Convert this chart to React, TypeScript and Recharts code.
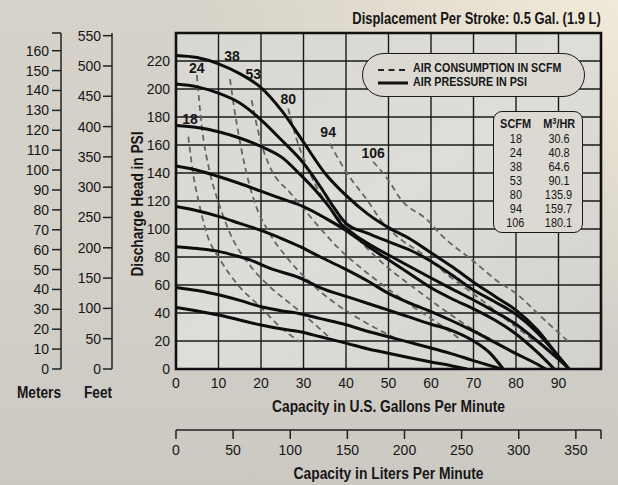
import React from 'react';
import { ComposedChart, Line, XAxis, YAxis, CartesianGrid, Scatter, ReferenceArea } from 'recharts';

const FONT = "'Liberation Sans', Arial, sans-serif";
const INK = '#161616';

// Tick labels
const gpmTicks = [0, 10, 20, 30, 40, 50, 60, 70, 80, 90];
const psiTicks = [0, 20, 40, 60, 80, 100, 120, 140, 160, 180, 200, 220];
const feetTicks = [0, 50, 100, 150, 200, 250, 300, 350, 400, 450, 500, 550];
const meterTicks = [0, 10, 20, 30, 40, 50, 60, 70, 80, 90, 100, 110, 120, 130, 140, 150, 160];
const literTicks = [0, 50, 100, 150, 200, 250, 300, 350];

// Axis extents
const gpmMax = 100;
const psiMax = 240;
const feetMax = 554.4;
const meterMax = 168.9;
const literMax = 372;

// Air pressure curves (gpm, psi)
const press224 = [[0,224],[5,222.5],[10,218],[15,211],[20,201],[25,184],[30,162],[35,140],[40,124],[45,111],[50,101],[55,93],[60,83],[65,73],[70,62],[75,52],[80,42],[85,28],[90,9],[92.5,0]];
const press203 = [[0,203.5],[5,201.5],[10,197],[15,190],[20,178],[25,163],[30,147],[34,130],[37,116],[40,104],[45,97],[50,91],[55,85],[60,77],[65,67],[70,56.5],[75,48],[80,39],[85,26],[90,9],[92.5,0]];
const press174 = [[0,174],[5,172.5],[10,169.5],[15,165],[20,159],[25,151],[29.2,139],[33,127],[36,116],[39,103],[42,96],[45,90],[52.7,77],[60,65],[65,57],[70,49.3],[75,41],[80,32],[85,20],[90,7],[92.5,0]];
const press145 = [[0,145],[5,142],[10,137.5],[15,132.5],[20,127],[25,121.5],[30,116],[35,108],[40,99],[45,88],[50,78],[55,68],[60,58],[65,50],[70,43],[75,35],[80,25],[85,12],[89,0]];
const press116 = [[0,116],[5,113],[10,109],[15,104],[20,99],[25,93],[29.2,87.4],[34,80],[39.4,72],[45,63],[50,54],[55,47],[60,41],[64.5,35],[70,27],[75,19],[80,11],[84,5],[87,0]];
const press87 = [[0,87.4],[5,86],[10,84],[14,81],[17.4,78],[22,72],[29.2,65],[34,58],[40.2,51.7],[45,47],[50,42],[55,37],[60,32],[64.5,28],[70,20],[74,11],[77,0]];
const press58 = [[0,58.3],[5,56],[10,53],[15,49],[20,44.5],[25,41.5],[29.2,39.5],[34,36],[40.2,31.4],[45,27],[50,23],[55,19],[60,15],[64.5,11.2],[70,6],[76.5,0]];
const press44 = [[0,44],[5,41.5],[10,38.6],[15,35],[20,31.4],[25,28.5],[29.2,26.6],[34,23],[40.2,18.3],[45,14.5],[50,11.2],[55,8],[60,5],[64.5,2.5],[68.5,0]];

// Air consumption curves (gpm, psi)
const scfm18 = [[2.9,166],[4,140],[5.3,120],[7.2,97],[10.4,78],[14.3,61],[19.8,44.5],[24.5,30],[29.2,19.5]];
const scfm24 = [[4.9,210],[6,175],[8,140],[10,119],[12.7,97],[17.4,74],[22,59],[28,44],[33,31],[37,20]];
const scfm38 = [[12.7,207],[14.3,175],[16.2,145],[18.3,121],[22,97],[26,80],[31.5,62],[37,48],[43,36],[49,26],[53,20]];
const scfm53 = [[17.8,192],[19.8,164],[22,145],[26.8,126],[28.4,120.5],[33.9,100.5],[38,87],[44,71],[50,57],[56,44],[62,32],[67,21]];
const scfm80 = [[26.4,186],[28.4,164],[31.5,140],[33.9,125.5],[41,99],[49.6,73],[56,58],[62,44.5],[70,28],[75,20]];
const scfm94 = [[36.2,161],[40.2,140],[44.9,121],[48.8,104],[52.7,93],[58,82],[64,67],[70.7,52],[77,37],[84,20.7]];
const scfm106 = [[46.4,148],[50.4,133],[52.7,122],[59.3,106],[62,97],[70,77],[76,62],[80,54],[86,37],[92.7,18.6]];

// Curve label anchors (gpm, psi, text)
const curveLabels = [
  [3.3, 178.6, '18'],
  [4.9, 215, '24'],
  [13.2, 223.6, '38'],
  [18.2, 210.7, '53'],
  [26.4, 192.6, '80'],
  [35.8, 169, '94'],
  [46.4, 154, '106'],
];

// Conversion table
const tableScfm = ['18', '24', '38', '53', '80', '94', '106'];
const tableM3hr = ['30.6', '40.8', '64.6', '90.1', '135.9', '159.7', '180.1'];

const toPts = (arr: number[][]) => arr.map(([gpm, psi]) => ({ gpm, psi }));
const pressureCurves = [press224, press203, press174, press145, press116, press87, press58, press44].map(toPts);
const airCurves = [scfm18, scfm24, scfm38, scfm53, scfm80, scfm94, scfm106].map(toPts);
const labelPts = curveLabels.map(([gpm, psi, text]) => ({ gpm, psi, text }));
const literRange = [{ lpm: 0, psi: 0 }, { lpm: literMax, psi: 0 }];

const tickStyle = { fill: INK, fontSize: 14, fontFamily: FONT };

const LabelShape = (props: any) => {
  const { cx, cy, payload } = props;
  return (
    <text x={cx} y={cy} textAnchor="middle" dominantBaseline="central" fill={INK}
      style={{ fontFamily: FONT, fontSize: 14, fontWeight: 700 }}>{payload.text}</text>
  );
};
const NoShape = () => <g />;

const blankEnd = (max: number) => (v: number) => (v === max ? '' : String(v));

// Condensed bold titles
const title = (text: string, len: number, fx: (vb: any) => number, fy: (vb: any) => number, rotate = false) =>
  (props: any) => {
    const vb = props.viewBox || {};
    const x = fx(vb);
    const y = fy(vb);
    return (
      <text x={x} y={y} textAnchor="middle" dominantBaseline="central" fill={INK}
        textLength={len} lengthAdjust="spacingAndGlyphs"
        transform={rotate ? `rotate(-90 ${x} ${y})` : undefined}
        style={{ fontFamily: FONT, fontSize: 16, fontWeight: 700 }}>{text}</text>
    );
  };

const condensed = (origin: string, k = 0.82): React.CSSProperties => ({ display: 'inline-block', transform: `scaleX(${k})`, transformOrigin: origin, whiteSpace: 'nowrap' });

export default function App() {
  return (
    <div style={{
      position: 'absolute', left: 0, top: 0, width: 618, height: 485, overflow: 'hidden',
      background: 'radial-gradient(ellipse at 100% 0%, rgba(242,234,216,1) 0%, rgba(236,229,213,0.6) 25%, rgba(236,229,213,0) 50%), linear-gradient(180deg, #d6d2c9 0%, #d3d0c8 55%, #ccc9c3 100%)',
    }}>
      <ComposedChart width={618} height={485} margin={{ top: 33, right: 17, bottom: 0, left: 0 }}>
        <defs>
          <linearGradient id="plotBg" x1="0" y1="0" x2="1" y2="1">
            <stop offset="0%" stopColor="#d9d7d3" />
            <stop offset="50%" stopColor="#dfddd9" />
            <stop offset="100%" stopColor="#d3d1cd" />
          </linearGradient>
        </defs>
        <XAxis xAxisId="gpm" type="number" dataKey="gpm" domain={[0, gpmMax]} ticks={gpmTicks}
          allowDataOverflow height={61} axisLine={false} tickLine={false} tickSize={6} tickMargin={3}
          tick={tickStyle} interval={0}
          label={title('Capacity in U.S. Gallons Per Minute', 233, (vb) => vb.x + vb.width / 2, (vb) => vb.y + 37)} />
        <XAxis xAxisId="lpm" type="number" dataKey="lpm" domain={[0, literMax]} ticks={[...literTicks, literMax]}
          allowDataOverflow height={55} axisLine={{ stroke: '#222', strokeWidth: 1.5 }}
          tickLine={{ stroke: '#222', strokeWidth: 1.5 }} tickSize={9} tickMargin={6} tick={tickStyle} interval={0}
          tickFormatter={blankEnd(literMax)}
          label={title('Capacity in Liters Per Minute', 190, (vb) => vb.x + vb.width / 2, (vb) => vb.y + 43)} />
        <YAxis yAxisId="y1psi" type="number" domain={[0, psiMax]} ticks={psiTicks} allowDataOverflow
          width={64} axisLine={false} tickLine={false} tickSize={4} tickMargin={2} tick={tickStyle} interval={0}
          label={title('Discharge Head in PSI', 145, (vb) => vb.x + 25, (vb) => vb.y + vb.height / 2 + 3, true)} />
        <YAxis yAxisId="y2feet" type="number" domain={[0, feetMax]} ticks={feetTicks} allowDataOverflow
          width={51} axisLine={{ stroke: '#222', strokeWidth: 1.5 }} tickLine={{ stroke: '#222', strokeWidth: 1.5 }}
          tickSize={9} tickMargin={2} tick={tickStyle} interval={0}
          label={title('Feet', 28, (vb) => vb.x + 37, (vb) => vb.y + vb.height + 23)} />
        <YAxis yAxisId="y3meters" type="number" domain={[0, meterMax]} ticks={[...meterTicks, meterMax]} allowDataOverflow
          width={61} axisLine={{ stroke: '#222', strokeWidth: 1.5 }} tickLine={{ stroke: '#222', strokeWidth: 1.5 }}
          tickSize={9} tickMargin={3} tick={tickStyle} interval={0} tickFormatter={blankEnd(meterMax)}
          label={title('Meters', 44, (vb) => vb.x + 39, (vb) => vb.y + vb.height + 23)} />
        <CartesianGrid xAxisId="gpm" yAxisId="y1psi" stroke="#1a1a1a" strokeWidth={1.4} fill="url(#plotBg)" fillOpacity={1} />
        <ReferenceArea xAxisId="gpm" yAxisId="y1psi" x1={0} x2={gpmMax} y1={0} y2={psiMax}
          fill="none" stroke="#111" strokeWidth={2.6} ifOverflow="visible" />
        <Scatter xAxisId="lpm" yAxisId="y1psi" data={literRange} dataKey="psi" shape={NoShape} isAnimationActive={false} />
        {airCurves.map((d, i) => (
          <Line key={'a' + i} xAxisId="gpm" yAxisId="y1psi" data={d} dataKey="psi" type="monotone"
            stroke="#666" strokeWidth={1.8} strokeDasharray="6 4" dot={false} activeDot={false}
            isAnimationActive={false} />
        ))}
        {pressureCurves.map((d, i) => (
          <Line key={'p' + i} xAxisId="gpm" yAxisId="y1psi" data={d} dataKey="psi" type="monotone"
            stroke="#0d0d0d" strokeWidth={3} dot={false} activeDot={false} isAnimationActive={false} />
        ))}
        <Scatter xAxisId="gpm" yAxisId="y1psi" data={labelPts} dataKey="psi" shape={LabelShape} isAnimationActive={false} />
      </ComposedChart>

      <div style={{ position: 'absolute', right: 17, top: 10, fontFamily: FONT, fontWeight: 700, fontSize: 16, lineHeight: '18px', color: INK }}>
        <span style={condensed('right center', 0.81)}>Displacement Per Stroke: 0.5 Gal. (1.9 L)</span>
      </div>

      <div style={{ position: 'absolute', left: 362, top: 53, width: 223, height: 44, boxSizing: 'border-box', border: '1.6px solid #1a1a1a', borderRadius: 22, background: '#dcd9d3' }}>
        <svg style={{ position: 'absolute', left: 14, top: 10 }} width={32} height={24}>
          <line x1={1} y1={6} x2={28} y2={6} stroke="#222" strokeWidth={1.8} strokeDasharray="6 4.5" />
          <line x1={1} y1={19} x2={31} y2={19} stroke="#111" strokeWidth={3} />
        </svg>
        <div style={{ position: 'absolute', left: 50, top: 8, fontFamily: FONT, fontWeight: 700, fontSize: 12, lineHeight: '13px', color: INK }}>
          <span style={condensed('left center', 0.89)}>AIR CONSUMPTION IN SCFM</span>
        </div>
        <div style={{ position: 'absolute', left: 50, top: 22, fontFamily: FONT, fontWeight: 700, fontSize: 12, lineHeight: '13px', color: INK }}>
          <span style={condensed('left center', 0.89)}>AIR PRESSURE IN PSI</span>
        </div>
      </div>

      <div style={{ position: 'absolute', left: 493, top: 111, width: 90, height: 122, boxSizing: 'border-box', border: '1.6px solid #1a1a1a', borderRadius: 9, background: '#dcd9d3', fontFamily: FONT, color: INK }}>
        <div style={{ position: 'absolute', left: 0, top: 5, width: 87, display: 'flex', fontWeight: 700, fontSize: 12.4, lineHeight: '14px' }}>
          <div style={{ width: 43, textAlign: 'center' }}><span style={condensed('center center', 0.88)}>SCFM</span></div>
          <div style={{ width: 44, textAlign: 'center' }}><span style={condensed('center center', 0.88)}>M<sup style={{ fontSize: 8.5, verticalAlign: 'top', lineHeight: '8px' }}>3</sup>/HR</span></div>
        </div>
        {tableScfm.map((s, i) => (
          <div key={s} style={{ position: 'absolute', left: 0, top: 20 + i * 14, width: 87, height: 14, display: 'flex', fontSize: 12.4, lineHeight: '14px' }}>
            <div style={{ width: 43, textAlign: 'center' }}><span style={condensed('center center', 0.88)}>{s}</span></div>
            <div style={{ width: 44, textAlign: 'center' }}><span style={condensed('center center', 0.88)}>{tableM3hr[i]}</span></div>
          </div>
        ))}
      </div>
    </div>
  );
}
